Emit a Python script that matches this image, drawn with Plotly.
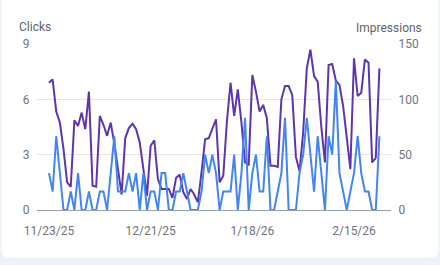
import plotly.graph_objects as go
import pandas as pd

start_date = "2025-11-23"

clicks = [2, 1, 4, 2, 0, 0, 1, 0, 2, 0,
          0, 1, 0, 0, 1, 1, 0, 2, 4, 1,
          1, 1, 2, 1, 2, 0, 2, 0, 1, 1,
          0, 2, 2, 0, 0, 1, 1, 2, 1, 0,
          0, 0, 1, 3, 2, 3, 2, 0, 1, 1,
          1, 3, 0, 2, 5, 0, 2, 3, 1, 1,
          4, 0, 0, 1, 2, 5, 0, 0, 0, 2,
          3, 5, 3, 1, 4, 2, 0, 4, 3, 7,
          2, 1, 0, 1, 2, 4, 2, 1, 1, 0,
          0, 4]

impressions = [115, 118, 89, 79, 55, 25, 21, 81, 76, 88,
               73, 107, 22, 21, 85, 77, 67, 79, 60, 35,
               14, 65, 74, 78, 73, 61, 37, 13, 58, 63,
               28, 19, 19, 19, 11, 29, 32, 16, 10, 19,
               14, 7, 34, 64, 65, 74, 82, 25, 31, 80,
               115, 85, 109, 79, 43, 41, 122, 107, 89, 95,
               83, 40, 40, 39, 100, 112, 112, 104, 48, 35,
               70, 128, 145, 121, 116, 75, 43, 131, 132, 117,
               113, 94, 67, 37, 137, 103, 106, 136, 133, 43,
               47, 128]

tick_labels = ["11/23/25", "12/21/25", "1/18/26", "2/15/26"]
tick_step_days = 28

clicks_ticks = [0, 3, 6, 9]
impr_ticks = [0, 50, 100, 150]

dates = pd.date_range(start_date, periods=len(clicks), freq="D")
tickvals = [dates[i * tick_step_days] for i in range(len(tick_labels))]

x0 = dates[0] - pd.Timedelta(hours=3.3 * 24)
x1 = dates[0] + pd.Timedelta(hours=94.19 * 24)

W, H = 440, 265
ML, MR, MT, MB = 37, 49, 44, 55
PW, PH = W - ML - MR, H - MT - MB


def px(x):
    return (x - ML) / PW


def py(y):
    return (H - MB - y) / PH


fig = go.Figure()
fig.add_trace(go.Scatter(
    x=dates, y=impressions, yaxis="y", mode="lines",
    line=dict(color="#5e35b1", width=2), name="Impressions",
    hoverinfo="skip"))
fig.add_trace(go.Scatter(
    x=dates, y=clicks, yaxis="y2", mode="lines",
    line=dict(color="#4285f4", width=2), name="Clicks",
    hoverinfo="skip"))

font = dict(family="Roboto, Arial, sans-serif", size=12, color="#70757a")

L, R, T, B, r = 1.5, 438.5, -10, 257.5, 8
card = (f"M {px(L)},{py(T)} L {px(R)},{py(T)} L {px(R)},{py(B - r)} "
        f"Q {px(R)},{py(B)} {px(R - r)},{py(B)} L {px(L + r)},{py(B)} "
        f"Q {px(L)},{py(B)} {px(L)},{py(B - r)} Z")

fig.update_layout(
    width=W, height=H,
    margin=dict(l=ML, r=MR, t=MT, b=MB, pad=0),
    paper_bgcolor="#eef1f7",
    plot_bgcolor="rgba(0,0,0,0)",
    showlegend=False,
    font=font,
    xaxis=dict(
        type="date", range=[x0, x1],
        tickvals=tickvals, ticktext=tick_labels,
        showgrid=False, zeroline=False,
        showline=True, linecolor="#9aa0a6", linewidth=1,
        ticks="outside", ticklen=10, tickcolor="rgba(0,0,0,0)",
        tickfont=font, fixedrange=True,
    ),
    yaxis=dict(
        side="right", range=[0, 150], tickvals=impr_ticks,
        showgrid=True, gridcolor="#e6e6e6", gridwidth=1,
        zeroline=False, showline=False,
        ticks="outside", ticklen=4, tickcolor="rgba(0,0,0,0)",
        tickfont=font, fixedrange=True,
    ),
    yaxis2=dict(
        side="left", overlaying="y", range=[0, 9], tickvals=clicks_ticks,
        showgrid=False, zeroline=False, showline=False,
        ticks="outside", ticklen=4, tickcolor="rgba(0,0,0,0)",
        tickfont=font, fixedrange=True,
    ),
    shapes=[dict(type="path", path=card, xref="paper", yref="paper",
                 fillcolor="#ffffff", line=dict(width=0), layer="below")],
    annotations=[
        dict(text="Clicks", xref="paper", yref="paper",
             x=px(17), y=py(27), xanchor="left", yanchor="middle",
             showarrow=False, font=dict(family="Roboto, Arial, sans-serif",
                                        size=12, color="#5f6368")),
        dict(text="Impressions", xref="paper", yref="paper",
             x=px(424), y=py(28), xanchor="right", yanchor="middle",
             showarrow=False, font=dict(family="Roboto, Arial, sans-serif",
                                        size=12, color="#5f6368")),
    ],
)

fig.write_html("out.html", config=dict(displayModeBar=False))
